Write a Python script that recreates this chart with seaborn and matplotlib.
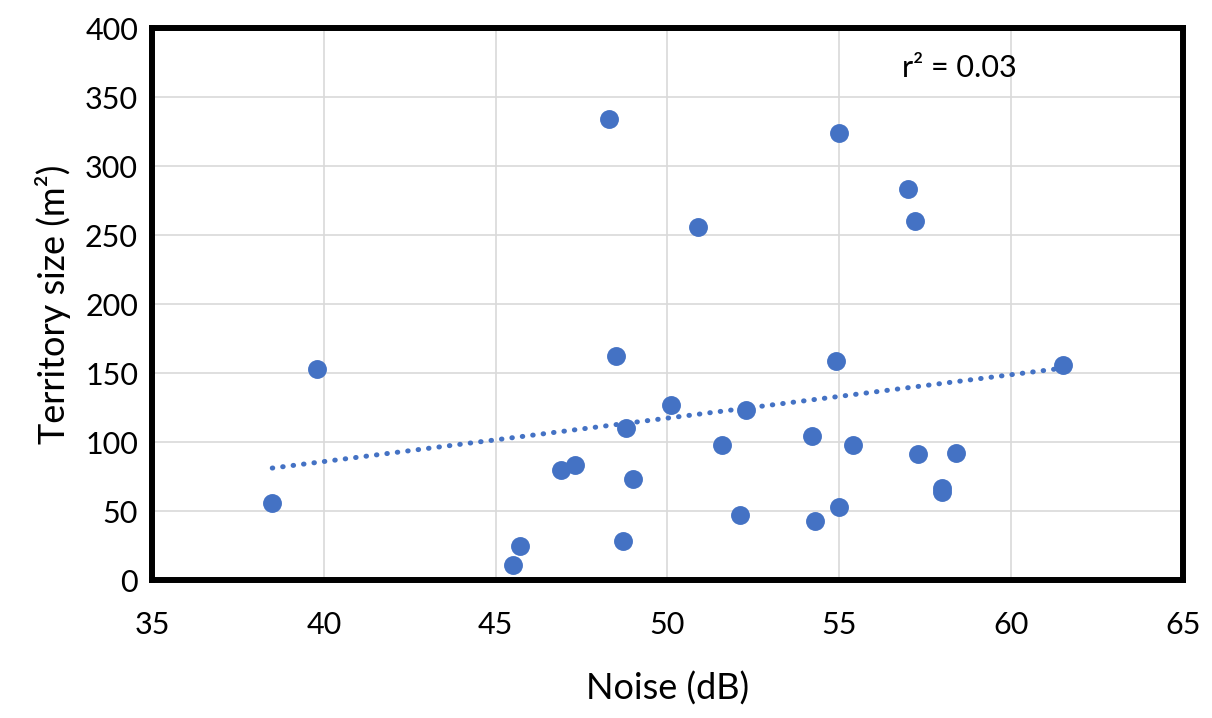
import matplotlib
matplotlib.use("Agg")
import matplotlib.pyplot as plt
import seaborn as sns
import numpy as np
import pandas as pd

noise_db = [38.5, 39.8, 45.5, 45.7, 46.9, 47.3, 48.3, 48.5, 48.7, 48.8, 49.0,
            50.1, 50.9, 51.6, 52.1, 52.3, 54.2, 54.3, 54.9, 55.0, 55.0, 55.4,
            57.0, 57.2, 57.3, 58.0, 58.0, 58.4, 61.5]
territory_m2 = [56, 153, 11, 25, 80, 83, 334, 162, 28, 110, 73,
                127, 256, 98, 47, 123, 104, 43, 159, 53, 324, 98,
                283, 260, 91, 67, 64, 92, 156]
x_ticks = [35, 40, 45, 50, 55, 60, 65]
y_ticks = [0, 50, 100, 150, 200, 250, 300, 350, 400]
r2_label = "r² = 0.03"

df = pd.DataFrame({"noise": noise_db, "territory": territory_m2})

sns.set_theme(style="white")
plt.rcParams['font.family'] = ['Lato', 'DejaVu Sans']

fig = plt.figure(figsize=(12.12, 7.18), dpi=100)
ax = fig.add_axes([0.1254, 0.1922, 0.8506, 0.7688])

blue = "#4472C4"
sns.regplot(data=df, x="noise", y="territory", scatter=False, ci=None,
            truncate=True, ax=ax,
            line_kws=dict(color=blue, lw=3.6, linestyle=(0, (0.1, 2.0)),
                          dash_capstyle="round", zorder=2))
sns.scatterplot(data=df, x="noise", y="territory", ax=ax, color=blue,
                s=185, edgecolor=blue, linewidth=0, zorder=3)

ax.set_xlim(35, 65)
ax.set_ylim(0, 400)
ax.set_xticks(x_ticks)
ax.set_yticks(y_ticks)
ax.grid(True, color="#d9d9d9", lw=1.2)
ax.set_axisbelow(True)
for s in ax.spines.values():
    s.set_visible(True)
    s.set_color("black")
    s.set_linewidth(4.3)
ax.tick_params(axis="both", labelsize=22, length=0, colors="black")
ax.tick_params(axis="x", pad=22)
ax.tick_params(axis="y", pad=10)
ax.set_xlabel("Noise (dB)", fontsize=26, labelpad=24, color="black")
ax.set_ylabel("Territory size (m²)", fontsize=26, labelpad=10, color="black")
ax.text(58.5, 371, r2_label, ha="center", va="center", fontsize=22, color="black")

fig.savefig("out.png", dpi=100)
